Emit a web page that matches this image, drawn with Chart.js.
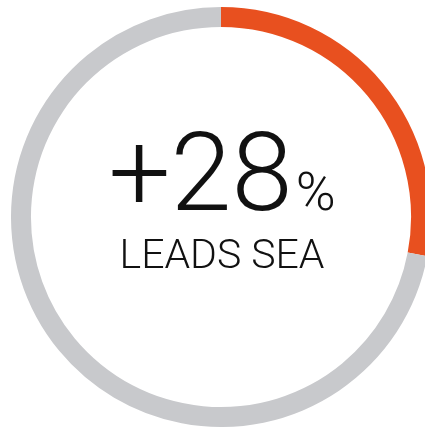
<!DOCTYPE html>
<html>
<head>
<meta charset="utf-8">
<script src="https://cdn.jsdelivr.net/npm/chart.js@4"></script>
<style>
    html, body { margin: 0; padding: 0; background: #fff; overflow: hidden; }
    body { width: 425px; height: 429px; position: relative; }
    #wrap { position: absolute; left: 11px; top: 7px; width: 420px; height: 420px; }
</style>
</head>
<body>
<div id="wrap"><canvas id="ring"></canvas></div>
<script>
const labels = ['Leads SEA', 'Rest'];
const values = [28, 72];
const colors = ['#e8501f', '#c8c9cc'];
const bigText = '+28';
const unitText = '%';
const subText = 'LEADS SEA';

// centre text drawn after the ring
const centerText = {
    id: 'centerText',
    afterDraw(chart) {
        const ctx = chart.ctx;
        const arc = chart.getDatasetMeta(0).data[0];
        const cx = arc.x;
        const cy = arc.y;
        ctx.save();
        ctx.fillStyle = '#111';
        ctx.textBaseline = 'alphabetic';
        ctx.textAlign = 'left';

        ctx.font = '300 110px Roboto';
        const w1 = ctx.measureText(bigText).width;
        ctx.font = '300 54px Roboto';
        const w2 = ctx.measureText(unitText).width;
        const gap = 3;
        let x = cx - (w1 + gap + w2) / 2 + 1;
        ctx.font = '300 110px Roboto';
        ctx.fillText(bigText, x, cy - 7);
        ctx.font = '300 54px Roboto';
        ctx.fillText(unitText, x + w1 + gap, cy - 7);

        ctx.textAlign = 'center';
        ctx.font = '300 41px Roboto';
        ctx.fillText(subText, cx + 1, cy + 51);
        ctx.restore();
    }
};

new Chart(document.getElementById('ring'), {
    type: 'doughnut',
    data: {
        labels: labels,
        datasets: [{
            data: values,
            backgroundColor: colors,
            borderWidth: 0
        }]
    },
    options: {
        responsive: true,
        maintainAspectRatio: false,
        animation: false,
        cutout: '90.5%',
        layout: { padding: 0 },
        plugins: {
            legend: { display: false },
            tooltip: { enabled: false }
        }
    },
    plugins: [centerText]
});
</script>
</body>
</html>
